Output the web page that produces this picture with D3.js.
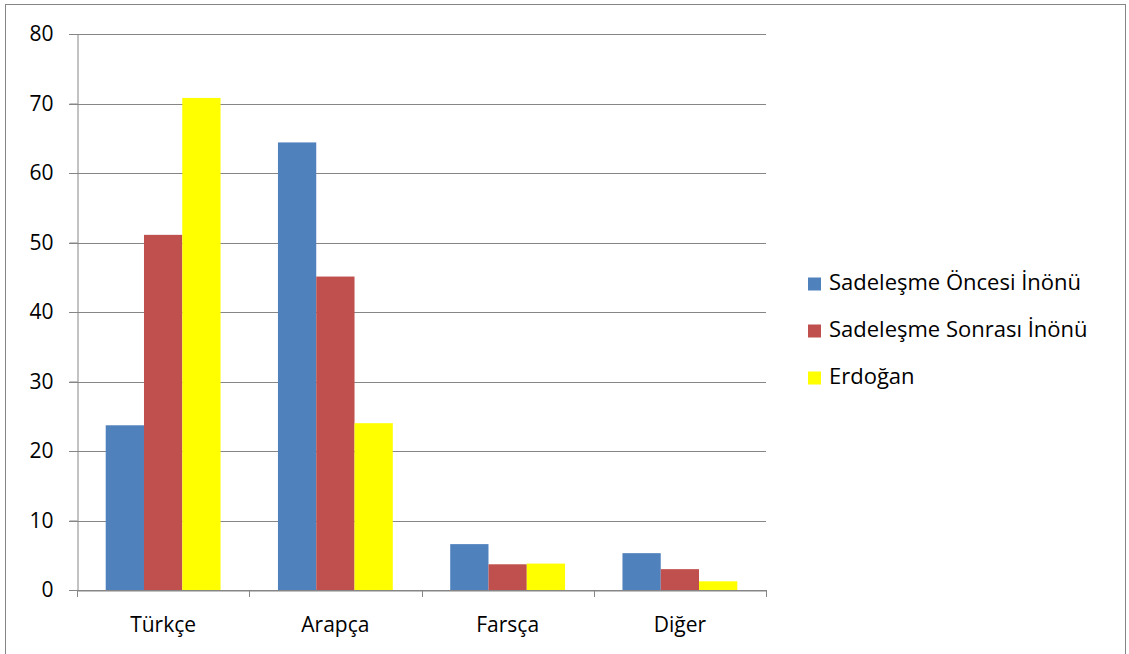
<!DOCTYPE html>
<html>
<head>
<meta charset="utf-8">
<script src="https://cdn.jsdelivr.net/npm/d3@7"></script>
<style>
  html, body { margin: 0; padding: 0; background: #fff; }
  svg { display: block; }
  text { font-family: "Open Sans", "Noto Sans", sans-serif; fill: #000; }
</style>
</head>
<body>
<svg id="chart" width="1129" height="654"></svg>
<script>
// Word origin shares (%) by category
const categories = ["Türkçe", "Arapça", "Farsça", "Diğer"];
const seriesNames = ["Sadeleşme Öncesi İnönü", "Sadeleşme Sonrası İnönü", "Erdoğan"];
const seriesColors = ["#4F81BD", "#C0504D", "#FFFF00"];
const oncesi = [23.7, 64.4, 6.6, 5.3];
const sonrasi = [51.1, 45.1, 3.7, 3.0];
const erdogan = [70.8, 24.0, 3.8, 1.25];
const yTicks = [0, 10, 20, 30, 40, 50, 60, 70, 80];

const seriesValues = [oncesi, sonrasi, erdogan];

const svg = d3.select("#chart");

// outer chart frame
svg.append("rect")
  .attr("x", 5.5).attr("y", 4.5)
  .attr("width", 1120).attr("height", 700)
  .attr("fill", "none").attr("stroke", "#868686").attr("stroke-width", 1);

const plot = { left: 77, right: 766, top: 34, bottom: 590 };

const x = d3.scaleBand().domain(categories).range([plot.left, plot.right]).paddingInner(0).paddingOuter(0);
const y = d3.scaleLinear().domain([0, 80]).range([plot.bottom, plot.top]);

// bar width: gap width 150% => band = 4.5 bar widths
const bw = x.bandwidth() / 4.5;
const x1 = d3.scaleBand().domain(d3.range(seriesNames.length))
  .range([x.bandwidth() / 2 - 1.5 * bw, x.bandwidth() / 2 + 1.5 * bw]).padding(0);

// horizontal gridlines
svg.append("g")
  .selectAll("line")
  .data(yTicks)
  .join("line")
  .attr("x1", plot.left - 8).attr("x2", plot.right)
  .attr("y1", d => Math.round(y(d)) + 0.5).attr("y2", d => Math.round(y(d)) + 0.5)
  .attr("stroke", "#868686").attr("stroke-width", 1);

// bars
const groups = svg.append("g")
  .selectAll("g")
  .data(seriesValues)
  .join("g")
  .attr("fill", (d, i) => seriesColors[i]);

groups.selectAll("rect")
  .data((vals, si) => vals.map((v, ci) => ({ v, ci, si })))
  .join("rect")
  .attr("x", d => x(categories[d.ci]) + x1(d.si))
  .attr("width", x1.bandwidth())
  .attr("y", d => y(d.v))
  .attr("height", d => y(0) - y(d.v));

// y axis
const yAxis = svg.append("g")
  .attr("transform", `translate(${plot.left + 0.5},0)`)
  .call(d3.axisLeft(y).tickValues(yTicks).tickSize(8).tickPadding(16).tickFormat(d3.format("d")));
yAxis.select(".domain").attr("stroke", "#868686");
yAxis.selectAll(".tick line").attr("stroke", "#868686");
yAxis.selectAll("text").style("font-size", "21px").attr("fill", "#000");

// x axis
const xAxis = svg.append("g")
  .attr("transform", `translate(0,${Math.round(plot.bottom) + 0.5})`)
  .call(d3.axisBottom(x).tickSize(0).tickPadding(27));
xAxis.select(".domain").attr("stroke", "#868686");
xAxis.selectAll("text").style("font-size", "21px").attr("fill", "#000");

// category separators below the axis
svg.append("g")
  .selectAll("line")
  .data(categories.map(c => x(c)).concat([plot.right]))
  .join("line")
  .attr("x1", d => Math.round(d) + 0.5).attr("x2", d => Math.round(d) + 0.5)
  .attr("y1", plot.bottom).attr("y2", plot.bottom + 7)
  .attr("stroke", "#868686");

// legend
const legend = svg.append("g").attr("transform", "translate(808,284)");
const item = legend.selectAll("g")
  .data(seriesNames)
  .join("g")
  .attr("transform", (d, i) => `translate(0,${i * 47})`);
item.append("rect")
  .attr("x", 0).attr("y", -6.5).attr("width", 13).attr("height", 13)
  .attr("fill", (d, i) => seriesColors[i]);
item.append("text")
  .attr("x", 21).attr("y", -2).attr("dy", "0.35em")
  .style("font-size", "22px")
  .text(d => d);
</script>
</body>
</html>
